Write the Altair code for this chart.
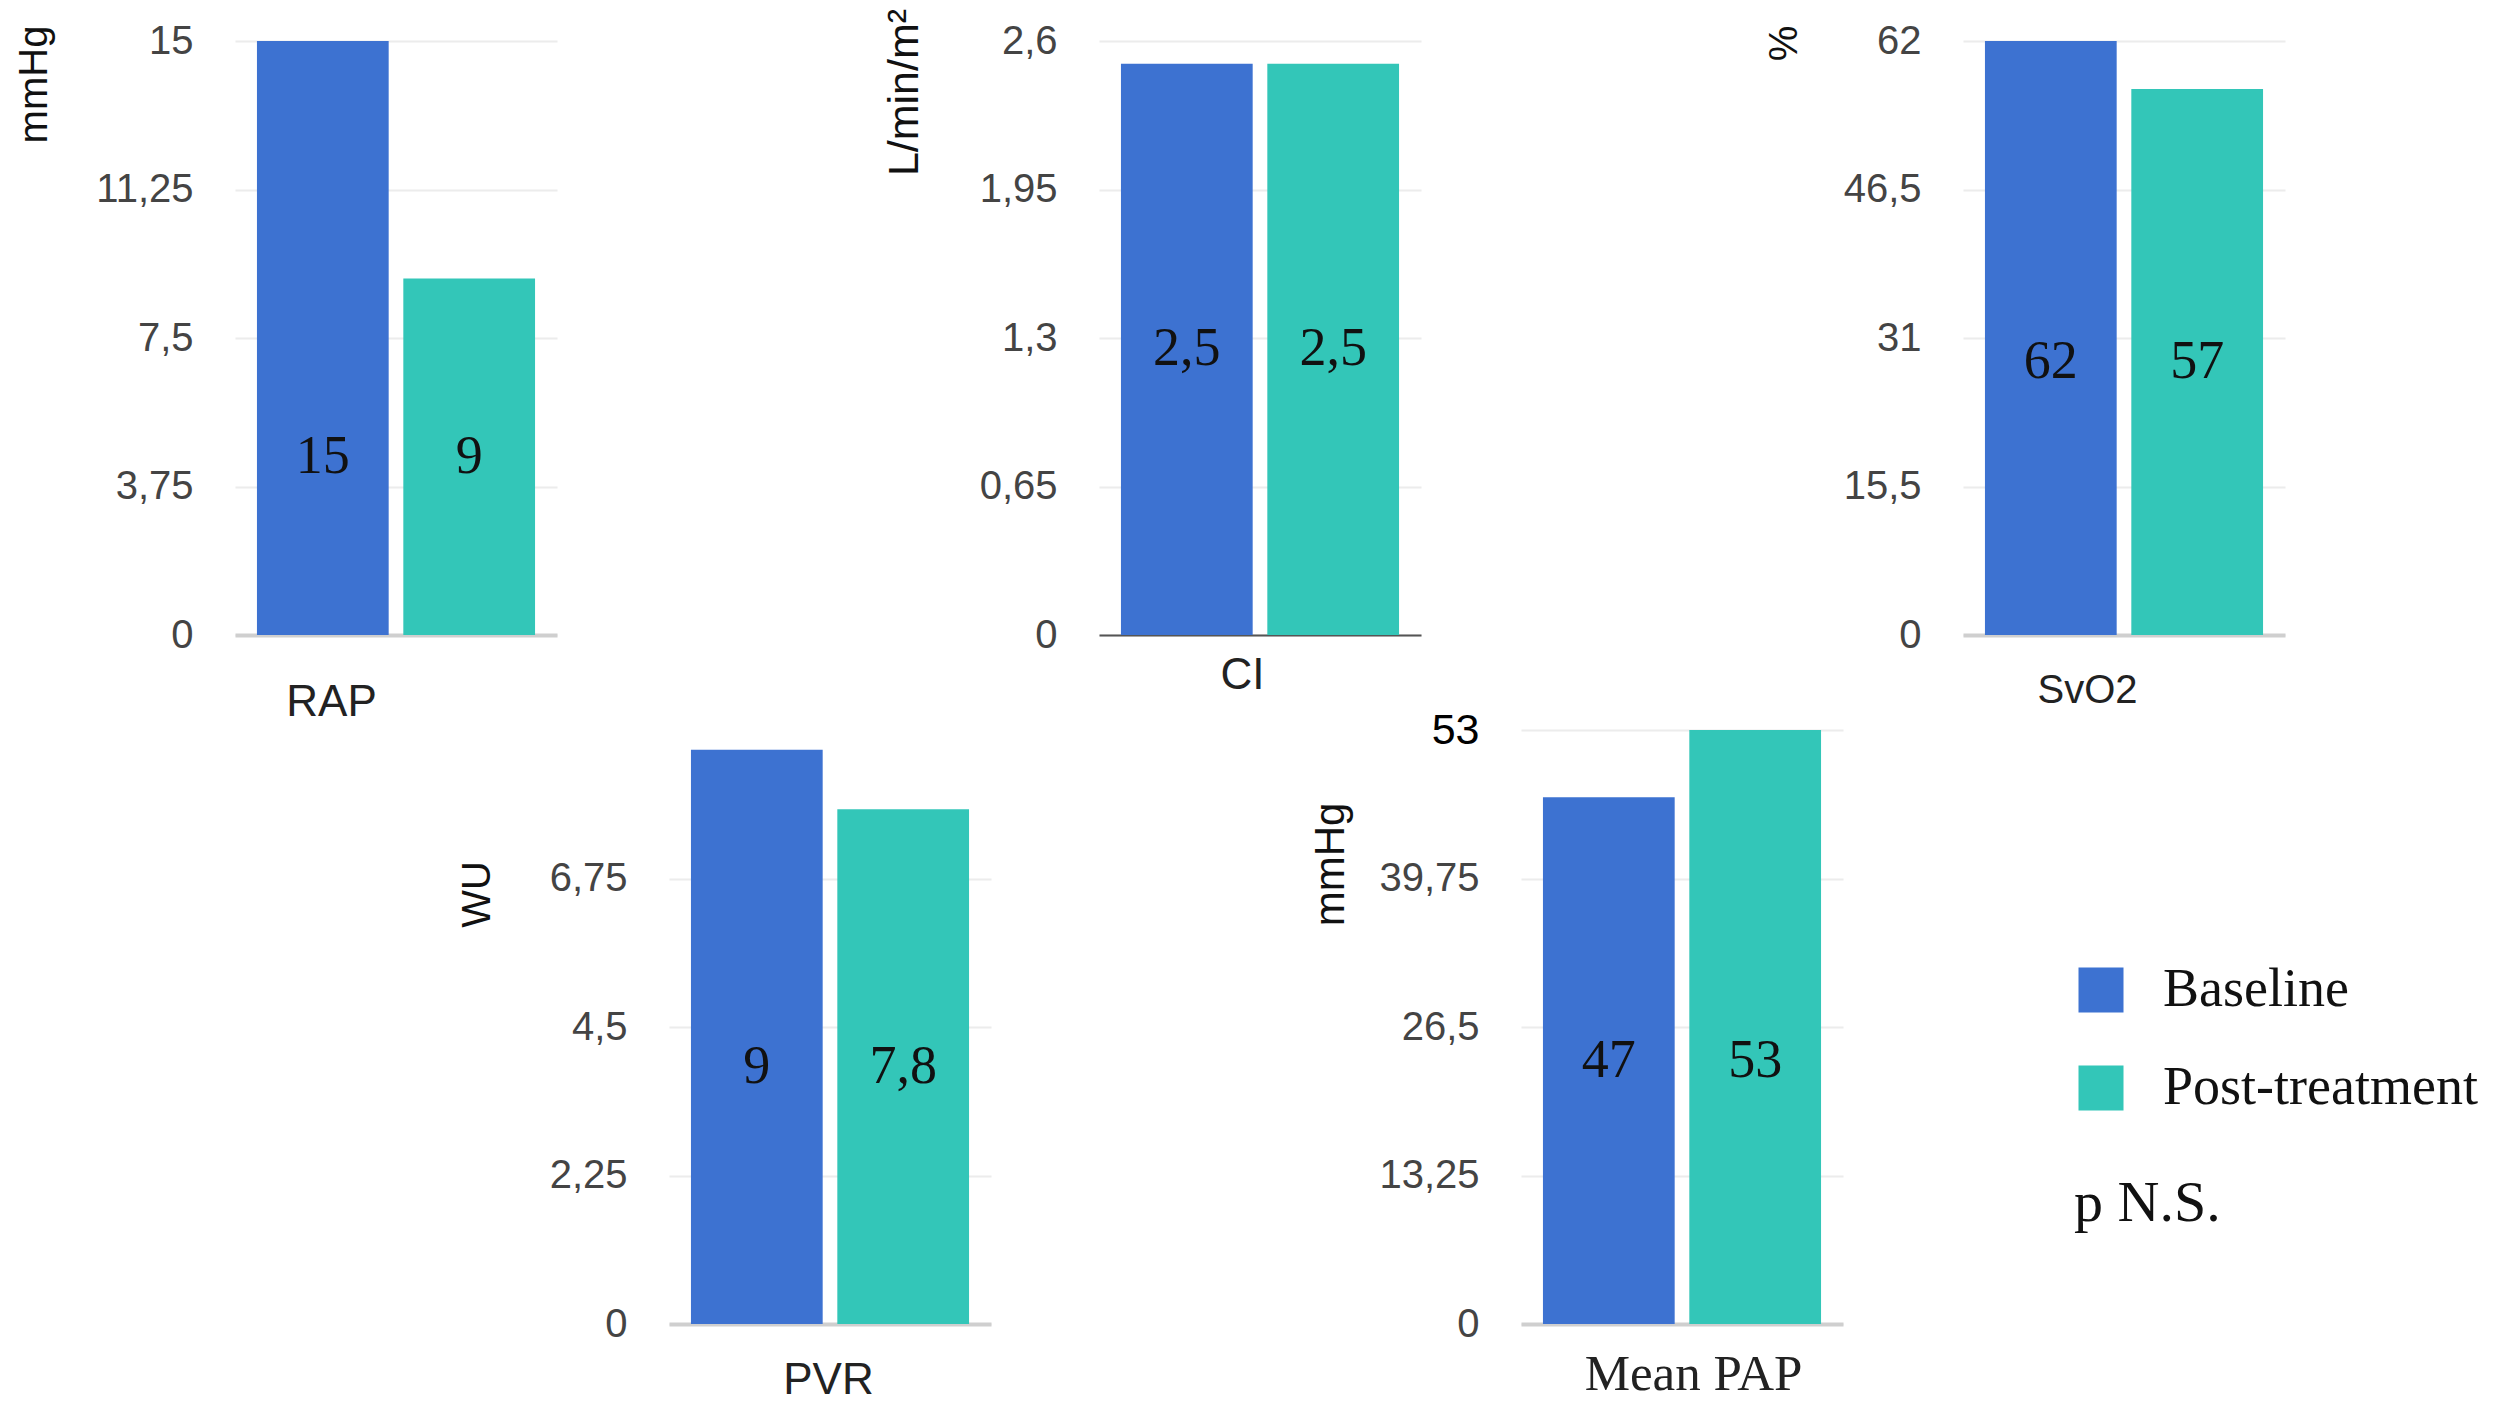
import altair as alt
import pandas as pd

# Séries e cores
series = ["Baseline", "Post-treatment"]
colors = ["#3D72D1", "#33C6B8"]

# Valores (barras) e rótulos impressos nas barras
rap_values = [15, 9]
rap_labels = ["15", "9"]
ci_values = [2.5, 2.5]
ci_labels = ["2,5", "2,5"]
svo2_values = [62, 57]
svo2_labels = ["62", "57"]
pvr_values = [8.7, 7.8]
pvr_labels = ["9", "7,8"]
pap_values = [47, 53]
pap_labels = ["47", "53"]

# Marcas dos eixos y
rap_ticks = [0, 3.75, 7.5, 11.25, 15]
ci_ticks = [0, 0.65, 1.3, 1.95, 2.6]
svo2_ticks = [0, 15.5, 31, 46.5, 62]
pvr_ticks = [0, 2.25, 4.5, 6.75]
pap_ticks = [0, 13.25, 26.5, 39.75, 53]

SANS = "Liberation Sans"
SERIF = "Liberation Serif"


def panel(metric, values, labels, ticks, top, unit, unit_x, unit_y,
          title_x, title_y, title_font=SANS, title_size=44, unit_size=40,
          domain_color="#cfcfcf", domain_width=4, label_color="#444", label_size=40):
    df = pd.DataFrame({"series": series, "value": values, "label": labels})
    # rótulo na metade da barra mais baixa
    df["label_y"] = min(values) / 2

    x_axis = alt.Axis(
        labels=False, ticks=False, domainColor=domain_color, domainWidth=domain_width,
        title=metric, titleX=title_x, titleY=title_y, titleFont=title_font,
        titleFontSize=title_size, titleFontWeight="normal", titleColor="#222",
        titleAlign="center", titleBaseline="middle"
    )
    y_axis = alt.Axis(
        values=ticks, domain=False, ticks=False, grid=True, gridColor="#ececec", gridWidth=2,
        labelExpr="replace(toString(datum.value), '.', ',')",
        labelFont=SANS, labelFontSize=label_size, labelColor=label_color, labelPadding=42,
        title=unit, titleX=unit_x, titleY=unit_y, titleAngle=270, titleFont=SANS,
        titleFontSize=unit_size, titleFontWeight="normal", titleColor="#111",
        titleAlign="center", titleBaseline="middle"
    )

    bars = alt.Chart(df).mark_bar().encode(
        x=alt.X("series:N", sort=series,
                scale=alt.Scale(paddingInner=0.1, paddingOuter=0.15), axis=x_axis),
        y=alt.Y("value:Q", scale=alt.Scale(domain=[0, top], nice=False), axis=y_axis),
        color=alt.Color("series:N", sort=series,
                        scale=alt.Scale(domain=series, range=colors),
                        legend=alt.Legend(title="p N.S."))
    )
    text = alt.Chart(df).mark_text(
        font=SERIF, fontSize=54, color="#111", baseline="middle"
    ).encode(
        x=alt.X("series:N", sort=series),
        y=alt.Y("label_y:Q"),
        text="label:N"
    )
    return alt.layer(bars, text).properties(width=322, height=594)


rap = panel("RAP", rap_values, rap_labels, rap_ticks, 15, "mmHg", -201, 43, 96, 67)
ci = panel("CI", ci_values, ci_labels, ci_ticks, 2.6, "L/min/m²", -195, 51, 143, 40,
           unit_size=43, domain_color="#555", domain_width=2)
svo2 = panel("SvO2", svo2_values, svo2_labels, svo2_ticks, 62, "%", -179, 2, 124, 55,
             title_size=40)
pvr = panel("PVR", pvr_values, pvr_labels, pvr_ticks, 9, "WU", -192, 164, 159, 56)
pap = panel("Mean PAP", pap_values, pap_labels, pap_ticks, 53, "mmHg", -191, 134, 172, 50,
            title_font=SERIF, title_size=51, unit_size=42,
            label_color={"condition": {"test": "datum.value == 53", "value": "#000"},
                         "value": "#444"},
            label_size={"condition": {"test": "datum.value == 53", "value": 43},
                        "value": 40})

# espaçador invisível para deslocar a linha de baixo
spacer = alt.Chart(pd.DataFrame({"v": [0]})).mark_point(opacity=0).encode(
    x=alt.X("v:Q", axis=None), y=alt.Y("v:Q", axis=None)
).properties(width=10, height=10)

top_row = alt.hconcat(rap, ci, svo2, spacing=542, bounds="flush")
pair = alt.hconcat(pvr, pap, spacing=530, bounds="flush")
bottom_row = alt.hconcat(spacer, pair, spacing=424, bounds="flush")

chart = alt.vconcat(top_row, bottom_row, spacing=-15).properties(
    padding={"left": 6, "top": 0, "right": 0, "bottom": 0}
).configure_view(
    strokeWidth=0
).configure_legend(
    orient="none", legendX=1839, legendY=922,
    symbolType="square", symbolSize=2025, symbolStrokeWidth=0,
    labelFont=SERIF, labelFontSize=54, labelColor="#111", labelOffset=35,
    rowPadding=44, titleOrient="bottom", titleFont=SERIF, titleFontSize=58,
    titleFontWeight="normal", titleColor="#111", titlePadding=60, labelLimit=600
)

chart.save("out.html", embed_options={"renderer": "svg", "actions": False})
